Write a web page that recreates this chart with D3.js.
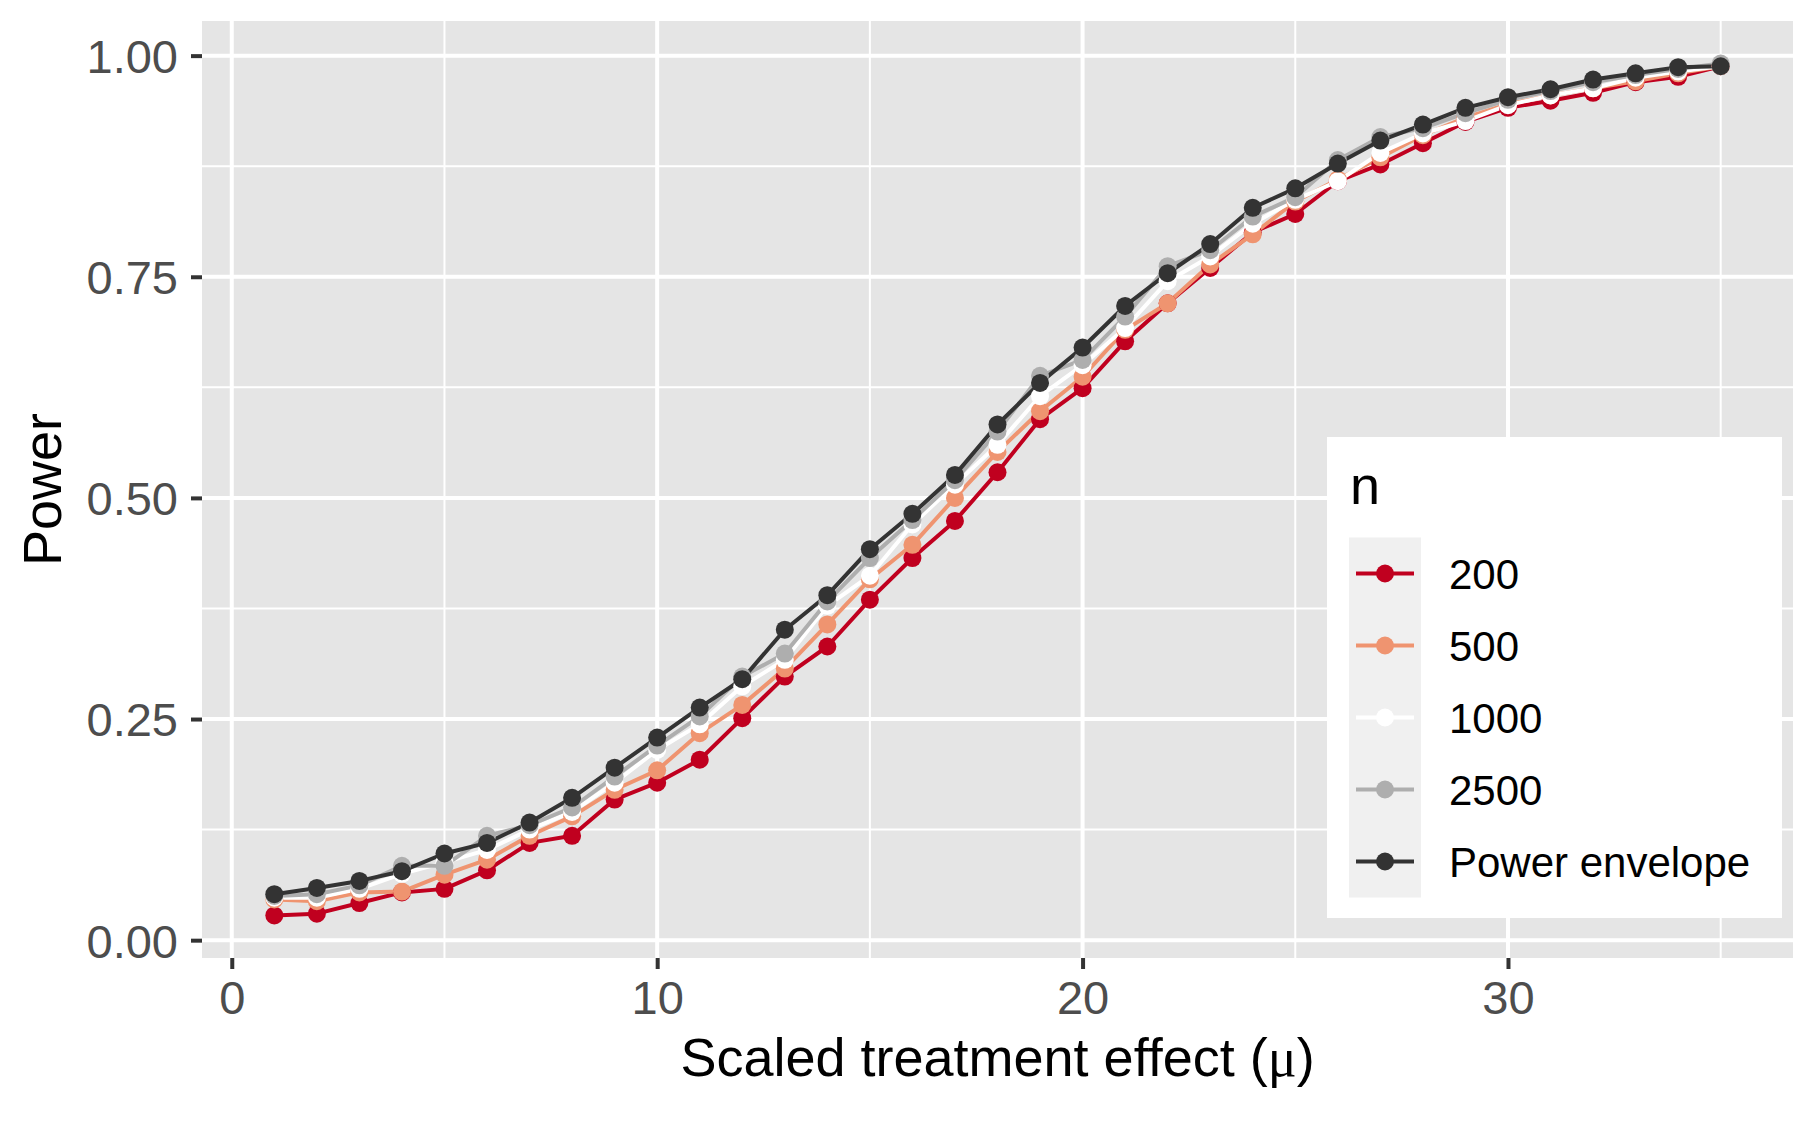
<!DOCTYPE html>
<html>
<head>
<meta charset="utf-8">
<script src="https://cdn.jsdelivr.net/npm/d3@7"></script>
<style>
  body { margin: 0; background: #fff; }
  svg text { font-family: "Liberation Sans", Arial, Helvetica, sans-serif; }
</style>
</head>
<body>
<svg id="chart" width="1815" height="1122"></svg>
<script>
// chart values
var mu = [1, 2, 3, 4, 5, 6, 7, 8, 9, 10, 11, 12, 13, 14, 15, 16, 17, 18, 19, 20,
  21, 22, 23, 24, 25, 26, 27, 28, 29, 30, 31, 32, 33, 34, 35];
var seriesNames = ['200', '500', '1000', '2500', 'Power envelope'];
var power200 = [0.028, 0.030, 0.042, 0.054, 0.058, 0.079, 0.110, 0.118, 0.159, 0.178,
  0.204, 0.251, 0.298, 0.332, 0.385, 0.432, 0.474, 0.529, 0.589, 0.624,
  0.677, 0.720, 0.760, 0.800, 0.821, 0.858, 0.877, 0.901, 0.925, 0.941,
  0.949, 0.958, 0.970, 0.976, 0.988];
var power500 = [0.046, 0.044, 0.054, 0.055, 0.074, 0.091, 0.118, 0.140, 0.170, 0.192,
  0.234, 0.266, 0.307, 0.357, 0.408, 0.447, 0.500, 0.552, 0.598, 0.637,
  0.690, 0.720, 0.764, 0.798, 0.835, 0.860, 0.885, 0.910, 0.930, 0.945,
  0.955, 0.963, 0.971, 0.980, 0.988];
var power1000 = [0.048, 0.048, 0.058, 0.075, 0.088, 0.102, 0.125, 0.145, 0.178, 0.215,
  0.244, 0.287, 0.317, 0.378, 0.412, 0.470, 0.515, 0.560, 0.615, 0.650,
  0.692, 0.745, 0.773, 0.810, 0.837, 0.858, 0.890, 0.912, 0.926, 0.944,
  0.955, 0.963, 0.975, 0.982, 0.988];
var power2500 = [0.050, 0.052, 0.062, 0.084, 0.084, 0.118, 0.130, 0.150, 0.185, 0.220,
  0.253, 0.298, 0.324, 0.383, 0.432, 0.475, 0.520, 0.575, 0.638, 0.656,
  0.705, 0.762, 0.780, 0.818, 0.840, 0.882, 0.908, 0.918, 0.935, 0.950,
  0.960, 0.970, 0.978, 0.985, 0.991];
var powerEnvelope = [0.052, 0.059, 0.067, 0.078, 0.098, 0.110, 0.133, 0.161, 0.195, 0.229,
  0.263, 0.295, 0.351, 0.390, 0.442, 0.482, 0.526, 0.583, 0.630, 0.670,
  0.717, 0.754, 0.787, 0.828, 0.850, 0.878, 0.904, 0.922, 0.941, 0.953,
  0.962, 0.973, 0.980, 0.987, 0.988];
var xMajorTicks = [0, 10, 20, 30];
var xMinorTicks = [5, 15, 25, 35];
var yMajorTicks = [0, 0.25, 0.5, 0.75, 1];
var yMinorTicks = [0.125, 0.375, 0.625, 0.875];

(function (d3) {
  'use strict';

  var svg = d3.select('#chart');
  var colors = ['#C0001F', '#EF9470', '#FFFFFF', '#AEAEAE', '#333333'];
  var values = [power200, power500, power1000, power2500, powerEnvelope];

  var series = seriesNames.map(function (name, i) {
    return {
      name: name,
      color: colors[i],
      points: mu.map(function (m, j) { return { x: m, y: values[i][j] }; })
    };
  });

  /** panel box and scales (ggplot style 5% expansion) */
  var panel = { left: 202, right: 1793, top: 21, bottom: 958 };
  var expand = function (ext) {
    var pad = (ext[1] - ext[0]) * 0.05;
    return [ext[0] - pad, ext[1] + pad];
  };
  var allY = d3.merge(values);
  var x = d3.scaleLinear().domain(expand(d3.extent(mu))).range([panel.left, panel.right]);
  var y = d3.scaleLinear().domain(expand(d3.extent(allY))).range([panel.bottom, panel.top]);

  svg.append('rect')
    .attr('x', panel.left).attr('y', panel.top)
    .attr('width', panel.right - panel.left).attr('height', panel.bottom - panel.top)
    .attr('fill', '#E5E5E5');

  /** grid lines */
  var grid = svg.append('g').attr('stroke', '#fff');
  var drawGrid = function (ticks, isX, width) {
    grid.selectAll(null).data(ticks).enter().append('line')
      .attr('x1', function (d) { return isX ? x(d) : panel.left; })
      .attr('x2', function (d) { return isX ? x(d) : panel.right; })
      .attr('y1', function (d) { return isX ? panel.top : y(d); })
      .attr('y2', function (d) { return isX ? panel.bottom : y(d); })
      .attr('stroke-width', width);
  };
  drawGrid(xMinorTicks, true, 2);
  drawGrid(yMinorTicks, false, 2);
  drawGrid(xMajorTicks, true, 4);
  drawGrid(yMajorTicks, false, 4);

  /** axes */
  var xAxis = d3.axisBottom(x).tickValues(xMajorTicks).tickSize(11).tickPadding(10)
    .tickFormat(d3.format('d'));
  var yAxis = d3.axisLeft(y).tickValues(yMajorTicks).tickSize(11).tickPadding(13)
    .tickFormat(d3.format('.2f'));

  var gx = svg.append('g').attr('transform', 'translate(0,' + panel.bottom + ')').call(xAxis);
  var gy = svg.append('g').attr('transform', 'translate(' + panel.left + ',0)').call(yAxis);
  [gx, gy].forEach(function (g) {
    g.select('.domain').remove();
    g.selectAll('.tick line').attr('stroke', '#333333').attr('stroke-width', 4);
    g.selectAll('.tick text')
      .attr('fill', '#4D4D4D')
      .style('font-size', '47px')
      .style('font-family', '"Liberation Sans", Arial, sans-serif');
  });
  gx.selectAll('.tick text').attr('dy', '0.74em');
  gy.selectAll('.tick text').attr('dy', '0.36em');

  svg.append('text')
    .attr('x', (panel.left + panel.right) / 2).attr('y', 1076)
    .attr('text-anchor', 'middle').style('font-size', '54px').attr('fill', '#000')
    .text('Scaled treatment effect (')
    .append('tspan').style('font-family', '"Liberation Serif", "DejaVu Serif", serif').text('\u03BC')
    .select(function () { return this.parentNode; })
    .append('tspan').text(')');

  svg.append('text')
    .attr('transform', 'translate(61,' + (panel.top + panel.bottom) / 2 + ') rotate(-90)')
    .attr('text-anchor', 'middle').style('font-size', '54px').attr('fill', '#000')
    .text('Power');

  /** lines, then points */
  var line = d3.line()
    .x(function (d) { return x(d.x); })
    .y(function (d) { return y(d.y); });

  svg.append('g').selectAll('path').data(series).enter().append('path')
    .attr('d', function (s) { return line(s.points); })
    .attr('fill', 'none')
    .attr('stroke', function (s) { return s.color; })
    .attr('stroke-width', 4)
    .attr('stroke-linejoin', 'round');

  var pointGroups = svg.append('g').selectAll('g').data(series).enter().append('g')
    .attr('fill', function (s) { return s.color; });
  pointGroups.selectAll('circle').data(function (s) { return s.points; }).enter().append('circle')
    .attr('cx', function (d) { return x(d.x); })
    .attr('cy', function (d) { return y(d.y); })
    .attr('r', 9);

  /** legend */
  var legend = svg.append('g');
  legend.append('rect')
    .attr('x', 1327).attr('y', 437).attr('width', 455).attr('height', 481)
    .attr('fill', '#fff');
  legend.append('text')
    .attr('x', 1350).attr('y', 504).style('font-size', '54px').attr('fill', '#000')
    .text('n');

  var keyTop = 537.5;
  var keySize = 72;
  legend.append('rect')
    .attr('x', 1349).attr('y', keyTop).attr('width', keySize).attr('height', keySize * series.length)
    .attr('fill', '#F0F0F0');

  var keys = legend.selectAll('g.key').data(series).enter().append('g')
    .attr('class', 'key')
    .attr('transform', function (s, i) {
      return 'translate(1349,' + (keyTop + keySize * i + keySize / 2) + ')';
    });
  keys.append('line')
    .attr('x1', 7).attr('x2', 65)
    .attr('stroke', function (s) { return s.color; })
    .attr('stroke-width', 4);
  keys.append('circle')
    .attr('cx', 36).attr('r', 9)
    .attr('fill', function (s) { return s.color; });
  keys.append('text')
    .attr('x', 100).attr('dy', '0.36em')
    .style('font-size', '42px').attr('fill', '#000')
    .text(function (s) { return s.name; });
})(d3);
</script>
</body>
</html>
